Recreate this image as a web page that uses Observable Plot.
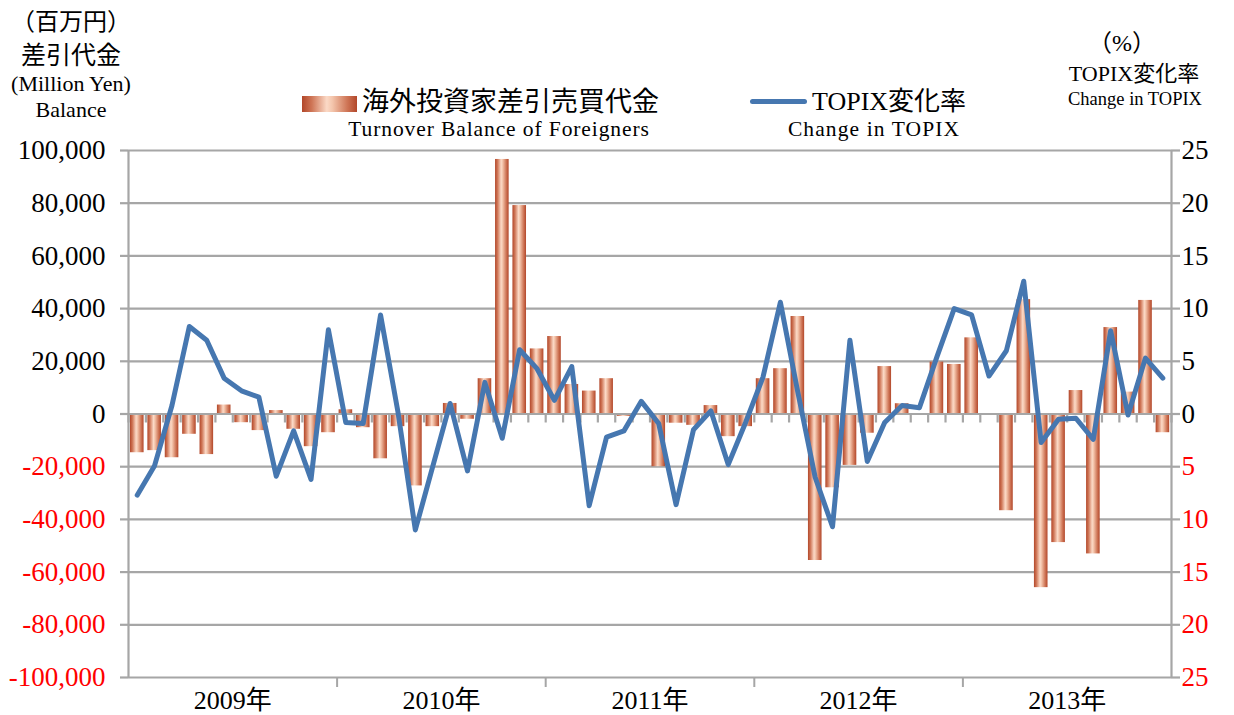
<!DOCTYPE html>
<html>
<head>
<meta charset="utf-8">
<script src="https://cdn.jsdelivr.net/npm/d3@7"></script>
<script src="https://cdn.jsdelivr.net/npm/@observablehq/plot@0.6"></script>
<style>
  body { margin: 0; background: #fff; }
  #wrap { position: relative; width: 1234px; height: 715px; font-family: "Liberation Serif", "Noto Sans CJK JP", serif; color: #000; }
  #wrap svg { position: absolute; left: 0; top: 0; }
  #wrap svg text { font-family: "Liberation Serif", "Noto Sans CJK JP", serif !important; }
  .lbl { position: absolute; white-space: nowrap; line-height: 1; transform: translate(-50%, -50%); }
  .lblL { position: absolute; white-space: nowrap; line-height: 1; transform: translate(0, -50%); }
</style>
</head>
<body>
<div id="wrap"></div>
<script>
// ---- data ----
const years = ["2009年", "2010年", "2011年", "2012年", "2013年"];
// 海外投資家差引売買代金 (百万円), monthly Jan 2009 - Dec 2013
const balance = [
  -14700, -13900, -16600, -7700, -15400, 3400, -3300, -6300, 1300, -5800, -12400, -7100,
  1600, -5200, -17000, -4800, -27300, -4800, 4000, -2000, 13400, 96600, 79100, 24700,
  29400, 11200, 8700, 13400, -900, 0, -20000, -3500, -4300, 3200, -8600, -4800,
  13400, 17200, 37000, -55600, -28000, -19500, -7300, 18000, 3900, 0, 19700, 18800,
  28900, 0, -36700, 43400, -65900, -48800, 8900, -53100, 32800, 8300, 43100, -7100
];
// TOPIX変化率 (%), monthly
const topix = [
  -7.7, -4.9, 0.8, 8.3, 7.0, 3.4, 2.2, 1.6, -5.9, -1.6, -6.2, 8.0,
  -0.8, -0.9, 9.4, 0.2, -11.0, -5.0, 1.0, -5.4, 3.0, -2.3, 6.1, 4.3,
  1.3, 4.5, -8.7, -2.2, -1.6, 1.2, -0.9, -8.6, -1.5, 0.3, -4.8, -0.8,
  3.5, 10.6, 2.1, -6.0, -10.7, 7.0, -4.5, -0.8, 0.8, 0.6, 5.4, 10.0,
  9.4, 3.6, 6.0, 12.6, -2.7, -0.5, -0.4, -2.4, 7.9, -0.1, 5.3, 3.4
];
const leftTicks = [100000, 80000, 60000, 40000, 20000, 0, -20000, -40000, -60000, -80000, -100000];
const rightTicks = [25, 20, 15, 10, 5, 0, -5, -10, -15, -20, -25];
const pctToYen = 100000 / 25; // right axis 25% aligns with 100,000

// ---- derived tables ----
const barData = balance.map((v, i) => ({i, v}));
const lineData = topix.map((v, i) => ({i, v: v * pctToYen}));
const nMonths = balance.length;

const gridColor = "#a6a6a6";
const fontFam = "Liberation Serif, Noto Sans CJK JP, serif";

const chart = Plot.plot({
  width: 1234,
  height: 715,
  marginTop: 150,
  marginBottom: 38,
  marginLeft: 128,
  marginRight: 63,
  style: {fontFamily: fontFam, background: "transparent", overflow: "visible"},
  x: {type: "linear", domain: [0, nMonths], axis: null},
  y: {domain: [-100000, 100000], axis: null},
  marks: [
    // horizontal grid
    Plot.ruleY(leftTicks, {y: d => d, stroke: gridColor, strokeWidth: 2.2}),
    // left axis tick marks
    Plot.ruleY(leftTicks, {y: d => d, x1: 0, x2: 0, insetLeft: -8, stroke: gridColor, strokeWidth: 2.2}),
    // right axis tick marks
    Plot.ruleY(leftTicks, {y: d => d, x1: nMonths, x2: nMonths, insetRight: -9, stroke: gridColor, strokeWidth: 2.2}),
    // vertical axis lines
    Plot.ruleX([0, nMonths], {x: d => d, y1: -100000, y2: 100000, stroke: gridColor, strokeWidth: 2.2}),
    // bars
    Plot.rect(barData, {x1: d => d.i, x2: d => d.i + 1, y1: 0, y2: d => d.v, insetLeft: 2, insetRight: 1.8, fill: "url(#copper)"}),
    // zero line & month tick marks
    Plot.ruleY([0], {y: d => d, stroke: gridColor, strokeWidth: 2.2}),
    Plot.ruleX(d3.range(0, nMonths + 1), {x: d => d, y1: 0, y2: 0, insetBottom: -9, stroke: gridColor, strokeWidth: 2.2}),
    // year tick marks on bottom axis
    Plot.ruleX(d3.range(12, nMonths, 12), {x: d => d, y1: -100000, y2: -100000, insetBottom: -10, stroke: gridColor, strokeWidth: 2}),
    // TOPIX line
    Plot.line(lineData, {x: d => d.i + 0.5, y: "v", stroke: "#4677b0", strokeWidth: 5, strokeLinejoin: "round", strokeLinecap: "round"}),
    // left tick labels
    Plot.text(leftTicks.filter(d => d >= 0), {x: 0, y: d => d, text: d => d.toLocaleString("en-US"), textAnchor: "end", dx: -23, fontSize: 27, fontFamily: fontFam, fill: "#000"}),
    Plot.text(leftTicks.filter(d => d < 0), {x: 0, y: d => d, text: d => d.toLocaleString("en-US"), textAnchor: "end", dx: -23, fontSize: 27, fontFamily: fontFam, fill: "#ff0000"}),
    // right tick labels
    Plot.text(rightTicks.filter(d => d >= 0), {x: nMonths, y: d => d * pctToYen, text: d => String(Math.abs(d)), textAnchor: "start", dx: 10, fontSize: 27, fontFamily: fontFam, fill: "#000"}),
    Plot.text(rightTicks.filter(d => d < 0), {x: nMonths, y: d => d * pctToYen, text: d => String(Math.abs(d)), textAnchor: "start", dx: 10, fontSize: 27, fontFamily: fontFam, fill: "#ff0000"}),
    // year labels
    Plot.text(years, {x: (d, i) => i * 12 + 6, y: -100000, text: d => d, dy: 23, fontSize: 26, fontFamily: fontFam, fill: "#000"})
  ]
});

// gradient for copper bars
const ns = "http://www.w3.org/2000/svg";
const defs = document.createElementNS(ns, "defs");
const grad = document.createElementNS(ns, "linearGradient");
grad.setAttribute("id", "copper");
grad.setAttribute("x1", "0"); grad.setAttribute("x2", "1");
grad.setAttribute("y1", "0"); grad.setAttribute("y2", "0");
[[0, "#b2472a"], [0.18, "#cf7657"], [0.45, "#fbd9c6"], [0.55, "#f4c6ad"], [0.82, "#cf7657"], [1, "#b2472a"]].forEach(([o, c]) => {
  const s = document.createElementNS(ns, "stop");
  s.setAttribute("offset", o);
  s.setAttribute("stop-color", c);
  grad.appendChild(s);
});
defs.appendChild(grad);
chart.insertBefore(defs, chart.firstChild);

const wrap = document.getElementById("wrap");
wrap.appendChild(chart);

// titles & legend (HTML text)
const labels = [
  {t: "（百万円）", x: 71, y: 22, s: 24},
  {t: "差引代金", x: 71, y: 55, s: 25},
  {t: "(Million Yen)", x: 71, y: 84, s: 22},
  {t: "Balance", x: 71, y: 110, s: 22},
  {t: "（%）", x: 1122, y: 43, s: 24},
  {t: "TOPIX変化率", x: 1134, y: 74, s: 22},
  {t: "Change in TOPIX", x: 1135, y: 99, s: 18.5},
  {t: "Turnover Balance of Foreigners", x: 499, y: 130, s: 21.5, ls: 0.9},
  {t: "Change in TOPIX", x: 874, y: 130, s: 21.5, ls: 1.1}
];
labels.forEach(l => {
  const d = document.createElement("div");
  d.className = "lbl";
  d.textContent = l.t;
  d.style.left = l.x + "px";
  d.style.top = l.y + "px";
  d.style.fontSize = l.s + "px";
  if (l.ls) d.style.letterSpacing = l.ls + "px";
  wrap.appendChild(d);
});
const leftAligned = [
  {t: "海外投資家差引売買代金", x: 362, y: 102, s: 27},
  {t: "TOPIX変化率", x: 812, y: 102, s: 26}
];
leftAligned.forEach(l => {
  const d = document.createElement("div");
  d.className = "lblL";
  d.textContent = l.t;
  d.style.left = l.x + "px";
  d.style.top = l.y + "px";
  d.style.fontSize = l.s + "px";
  wrap.appendChild(d);
});
// legend swatches
const sw = document.createElement("div");
Object.assign(sw.style, {position: "absolute", left: "302px", top: "96px", width: "55px", height: "16px",
  background: "linear-gradient(to right, #b2472a 0%, #cf7657 18%, #fbd9c6 45%, #f4c6ad 55%, #cf7657 82%, #b2472a 100%)"});
wrap.appendChild(sw);
const ls = document.createElement("div");
Object.assign(ls.style, {position: "absolute", left: "750px", top: "99px", width: "57px", height: "5px", background: "#4677b0", borderRadius: "2.5px"});
wrap.appendChild(ls);
</script>
</body>
</html>
